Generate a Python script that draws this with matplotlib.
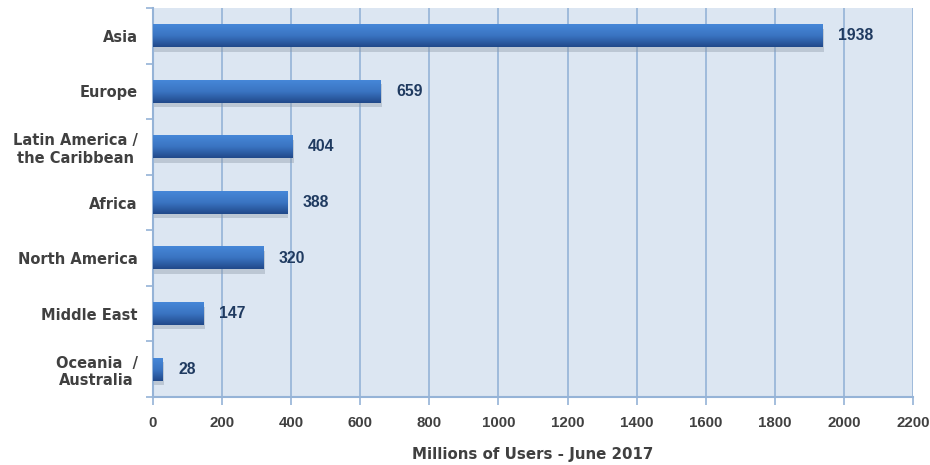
import matplotlib.pyplot as plt
import numpy as np
from matplotlib.colors import LinearSegmentedColormap

plt.rcParams['font.family'] = ['DejaVu Sans']

regions = ["Asia", "Europe", "Latin America /\nthe Caribbean", "Africa",
           "North America", "Middle East", "Oceania  /\nAustralia"]
users = [1938, 659, 404, 388, 320, 147, 28]
xticks = np.arange(0, 2201, 200)

grid_col = "#95b3d7"
bg_col = "#dce6f2"
label_col = "#404040"
value_col = "#1f3a60"
num_font = ['Liberation Sans', 'DejaVu Sans']

fig = plt.figure(figsize=(9.3, 4.65), dpi=100)
ax = fig.add_axes([153 / 930, 68 / 465, 760 / 930, 389 / 465])
ax.set_facecolor(bg_col)

ypos = np.arange(len(regions))
bar_h = 0.41
# gradient bar: lighter at top, darker at bottom
cmap = LinearSegmentedColormap.from_list("bar", ["#4687d8", "#3a74c2", "#21498a"])
grad = np.linspace(0, 1, 64).reshape(-1, 1)

for y, v in zip(ypos, users):
    # shadow
    ax.barh(y + 0.08, v + 4, height=bar_h, left=0, color="#8e99a8", alpha=0.4,
            zorder=2, linewidth=0)
    ax.imshow(grad, cmap=cmap, aspect="auto", interpolation="bilinear",
              origin="upper", extent=[0, v, y + bar_h / 2, y - bar_h / 2], zorder=3)
    ax.text(v + 45, y, str(v), va="center", ha="left", fontsize=11.3,
            fontweight="bold", color=value_col, zorder=4, family=num_font)

ax.set_xlim(0, 2200)
ax.set_ylim(len(regions) - 0.5, -0.5)
ax.set_xticks(xticks)
ax.set_xticklabels([str(t) for t in xticks], fontsize=10.8, fontweight="bold",
                   color=label_col, family=num_font)
ax.set_yticks(ypos)
ax.set_yticklabels(regions, fontsize=10.5, fontweight="bold", color=label_col,
                   ha="right", multialignment="center")
ax.set_yticks(np.arange(len(regions) + 1) - 0.5, minor=True)
ax.tick_params(axis="y", which="major", length=0, pad=11)
ax.tick_params(axis="y", which="minor", length=5, color=grid_col, width=1.2)
ax.tick_params(axis="x", length=6, color=grid_col, width=1.2, pad=8)

ax.grid(axis="x", color=grid_col, linewidth=1.2, zorder=1)
ax.set_axisbelow(True)
for s in ["top", "right"]:
    ax.spines[s].set_visible(False)
for s in ["left", "bottom"]:
    ax.spines[s].set_color(grid_col)
    ax.spines[s].set_linewidth(1.5)

ax.set_xlabel("Millions of Users - June 2017", fontsize=10.8, fontweight="bold",
              color=label_col, labelpad=12)

fig.savefig("out.png", dpi=100)
